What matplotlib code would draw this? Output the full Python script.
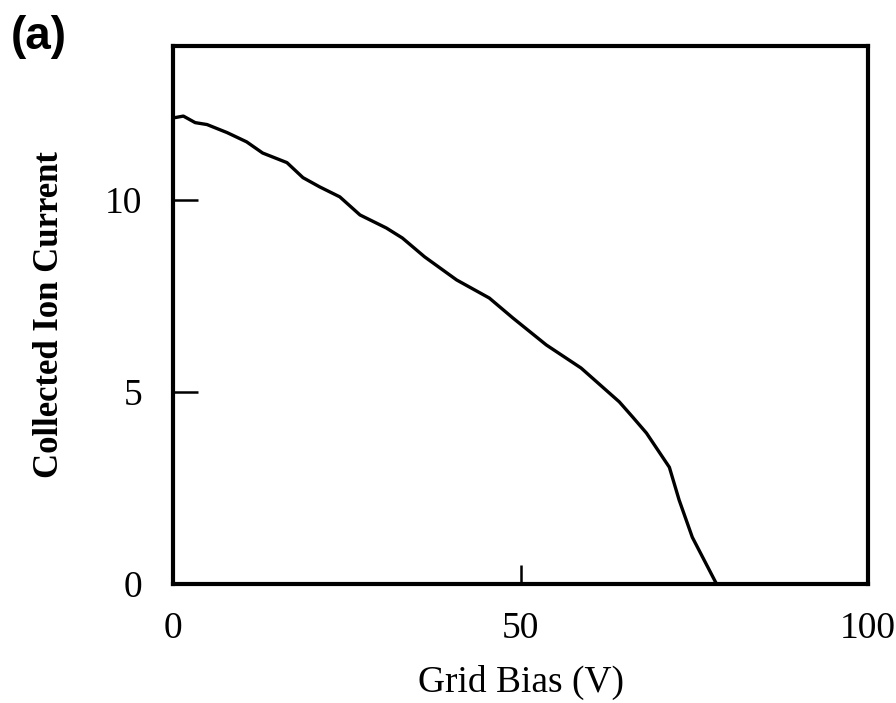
import numpy as np
import matplotlib
matplotlib.use("Agg")
import matplotlib.pyplot as plt

# grid bias sweep (V) and collected ion current
bias = [0.3, 1.5, 3.2, 4.9, 7.8, 10.6, 12.9, 16.4, 18.7, 21.1, 24.0, 26.9, 30.7,
        33.0, 36.2, 40.8, 45.5, 48.9, 53.7, 58.7, 64.2, 66.1, 68.1, 71.4,
        72.8, 74.7, 78.2]
current = [12.13, 12.17, 12.0, 11.95, 11.74, 11.5, 11.21, 10.96, 10.57, 10.33,
           10.07, 9.6, 9.26, 9.0, 8.51, 7.91, 7.44, 6.92, 6.22, 5.62, 4.74,
           4.35, 3.93, 3.04, 2.19, 1.22, 0.0]

xticks = [0, 50, 100]
yticks = [0, 5, 10]

serif = ["Liberation Serif", "DejaVu Serif"]

fig = plt.figure(figsize=(8.96, 7.03), dpi=100)
ax = fig.add_axes([0.193, 0.169, 0.776, 0.766])

ax.plot(bias, current, color="black", lw=2.4, solid_joinstyle="round",
        solid_capstyle="round")

ax.set_xlim(0, 100)
ax.set_ylim(0, 14)
ax.set_xticks(xticks)
ax.set_yticks(yticks)
ax.tick_params(axis="x", direction="in", length=14, width=1.8, pad=20,
               labelsize=27, top=False)
ax.tick_params(axis="y", direction="in", length=18, width=1.8, pad=22,
               labelsize=27, right=False)
for lab in ax.get_xticklabels() + ax.get_yticklabels():
    lab.set_family(serif)

for sp in ax.spines.values():
    sp.set_linewidth(3)

ax.set_xlabel("Grid Bias (V)", family=serif, fontsize=27, labelpad=13)
ax.set_ylabel("Collected Ion Current", family=serif, fontsize=25,
              fontweight="bold", labelpad=28)

fig.text(0.012, 0.93, "(a)", family=["Liberation Sans", "DejaVu Sans"],
         fontsize=33, fontweight="bold")

fig.savefig("out.png", dpi=100)
